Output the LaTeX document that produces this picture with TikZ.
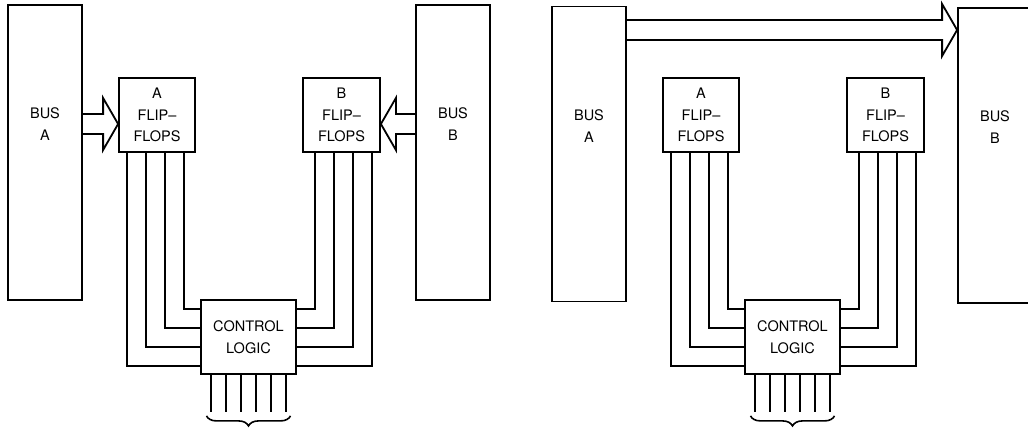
\documentclass[tikz,border=0pt]{standalone}
\usepackage{fontspec}
\setmainfont{TeX Gyre Heros}
\usetikzlibrary{calc,decorations.pathreplacing}

\tikzset{
    bt bus/.style={draw, line width=1.8pt, minimum width=74pt,
                   minimum height=295pt, inner sep=0pt},
    bt box/.style={draw, line width=1.8pt, inner sep=0pt, align=center,
                   minimum height=74pt, font=\fontsize{14.5}{21.5}\selectfont},
    bt label/.style={align=center, font=\fontsize{14.5}{21.5}\selectfont},
    bt wire/.style={line width=1.6pt},
    bt arrow/.style={line width=1.8pt, line join=miter},
    bt brace/.style={line width=1.6pt, decorate,
                     decoration={brace, mirror, amplitude=10pt}},
}
% hollow bus arrow: #1 tail anchor, #2 tip anchor, #3 level, #4 = 1 right / -1 left
\newcommand{\fatarrow}[4]{%
    \draw[bt arrow] ($(#1 |- 0,#3)+(0,-10)$) -- ($(#2 |- 0,#3)+({-(#4)*15},-10)$)
        -- ($(#2 |- 0,#3)+({-(#4)*15},-26)$) -- (#2 |- 0,#3)
        -- ($(#2 |- 0,#3)+({-(#4)*15},26)$) -- ($(#2 |- 0,#3)+({-(#4)*15},10)$)
        -- ($(#1 |- 0,#3)+(0,10)$);%
}
\newcommand{\fflogic}[1]{%
    % flip-flop registers
    \node[bt box, minimum width=76pt] (ffA#1) at (157,115) {A\\FLIP–\\FLOPS};
    \node[bt box, minimum width=77pt] (ffB#1) at (341.5,115) {B\\FLIP–\\FLOPS};
    % control logic
    \node[bt box, minimum width=95pt] (ctrl#1) at (248.5,337) {CONTROL\\LOGIC};
    % four lines on each side
    \foreach \i in {0,...,3} {
        \draw[bt wire] ($(ffA#1.south west)+({9+19*\i},0)$)
            |- ($(ctrl#1.south west)+(0,{-9-19*\i})$);
        \draw[bt wire] ($(ffB#1.south east)+({-9-19*\i},0)$)
            |- ($(ctrl#1.south east)+(0,{-9-19*\i})$);
    }
    % six control lines out of the bottom
    \foreach \i in {0,...,5}
        \draw[bt wire] ($(ctrl#1.south)+({-37.5+15*\i},0)$) -- ++(0,37);
    \draw[bt brace] ($(ctrl#1.south)+(-42,41)$) -- ($(ctrl#1.south)+(42,41)$);
}

\begin{document}
\begin{tikzpicture}[x=1pt, y=-1pt]
    \useasboundingbox (0,0) rectangle (1028,428);
    % Left: both buses load their flip-flops
    \node[bt bus] (busA) at (45,152.5) {};
    \node[bt bus] (busB) at (453,152.5) {};
    \node[bt label] (busAlbl) at (busA |- 0,124) {BUS\\A};
    \node[bt label] (busBlbl) at (busB |- 0,124) {BUS\\B};
    \fflogic{}
    \fatarrow{busA.east}{ffA.west}{124}{1}
    \fatarrow{busB.west}{ffB.east}{124}{-1}
    % Right: bus A drives bus B directly
    \begin{scope}[xshift=544pt]
        \node[bt bus] (busA2) at (45,154) {};
        \node[bt bus] (busB2) at (451,155.5) {};
        \node[bt label] (busA2lbl) at (busA2 |- 0,126) {BUS\\A};
        \node[bt label] (busB2lbl) at (busB2 |- 0,127) {BUS\\B};
        \fflogic{2}
        \fatarrow{busA2.east}{busB2.west}{30}{1}
    \end{scope}
\end{tikzpicture}
\end{document}
